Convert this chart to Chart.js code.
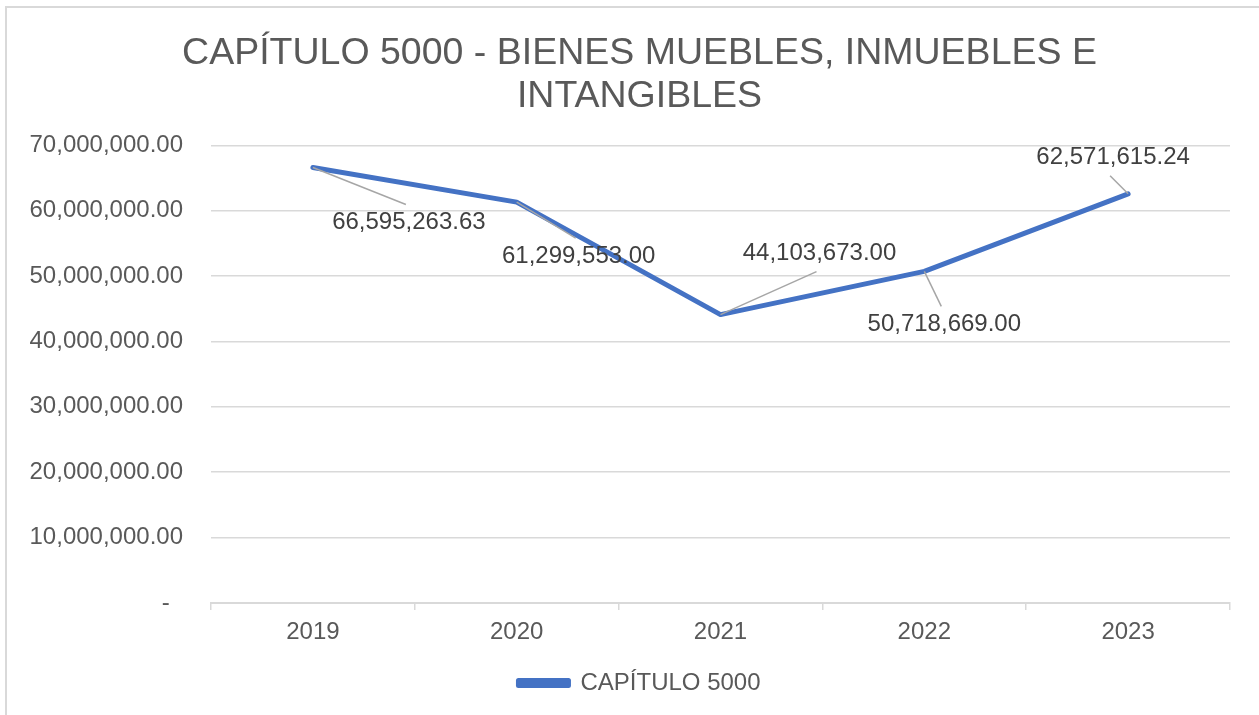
<!DOCTYPE html>
<html>
<head>
<meta charset="utf-8">
<script src="https://cdn.jsdelivr.net/npm/chart.js@4.4.1/dist/chart.umd.min.js"></script>
<style>
  html, body { margin: 0; padding: 0; background: #ffffff; }
  #wrap { position: relative; width: 1259px; height: 715px; }
  #marco { position: absolute; left: 5px; top: 6px; width: 1300px; height: 760px;
           border: 2px solid #d9d9d9; pointer-events: none; }
</style>
</head>
<body>
<div id="wrap">
  <canvas id="grafica" width="1259" height="715"></canvas>
  <div id="marco"></div>
</div>
<script>
// Datos de la gráfica
const anios = ["2019", "2020", "2021", "2022", "2023"];
const montos = [66595263.63, 61299553.00, 44103673.00, 50718669.00, 62571615.24];
const etiquetasMontos = ["66,595,263.63", "61,299,553.00", "44,103,673.00", "50,718,669.00", "62,571,615.24"];
const nombreSerie = "CAPÍTULO 5000";
const tituloGrafica = ["CAPÍTULO 5000 - BIENES MUEBLES, INMUEBLES E", "INTANGIBLES"];

// Desplazamiento de cada etiqueta respecto a su punto (px)
const desplazamientos = [[96, 55], [62, 54], [99, -61], [20, 53], [-15, -36]];

const fuente = '"Liberation Sans", Arial, sans-serif';
const gris = "#595959";

// Plugin para las etiquetas de datos con líneas guía
const etiquetasPlugin = {
    id: "etiquetasDatos",
    afterDatasetsDraw(chart) {
        const ctx = chart.ctx;
        const meta = chart.getDatasetMeta(0);
        ctx.save();
        ctx.font = "24px " + fuente;
        ctx.textAlign = "center";
        ctx.textBaseline = "middle";
        meta.data.forEach((pt, i) => {
            const [dx, dy] = desplazamientos[i];
            const lx = pt.x + dx;
            const ly = pt.y + dy;
            const finY = dy > 0 ? ly - 18 : ly + 18;
            ctx.strokeStyle = "#a6a6a6";
            ctx.lineWidth = 1.5;
            ctx.beginPath();
            ctx.moveTo(pt.x, pt.y);
            ctx.lineTo(lx - 3, finY);
            ctx.stroke();
            ctx.fillStyle = "#404040";
            ctx.fillText(etiquetasMontos[i], lx, ly);
        });
        ctx.restore();
    }
};

const ctx = document.getElementById("grafica").getContext("2d");
new Chart(ctx, {
    type: "line",
    data: {
        labels: anios,
        datasets: [{
            label: nombreSerie,
            data: montos,
            borderColor: "#4472C4",
            backgroundColor: "#4472C4",
            borderWidth: 5,
            borderCapStyle: "round",
            borderJoinStyle: "round",
            pointRadius: 0,
            tension: 0
        }]
    },
    options: {
        responsive: false,
        animation: false,
        layout: { padding: { left: 20, right: 0, top: 8, bottom: 10 } },
        plugins: {
            title: {
                display: true,
                text: tituloGrafica,
                color: gris,
                font: { family: fuente, size: 37.5, weight: "normal", lineHeight: 1.15 },
                padding: { top: 24, bottom: 27 }
            },
            legend: {
                position: "bottom",
                labels: {
                    color: gris,
                    font: { family: fuente, size: 24 },
                    boxWidth: 50,
                    boxHeight: 5,
                    padding: 10
                }
            },
            tooltip: { enabled: false }
        },
        scales: {
            x: {
                offset: true,
                grid: { offset: true, drawOnChartArea: false, drawTicks: true, tickLength: 7, color: "#d9d9d9", lineWidth: 1.5 },
                border: { color: "#d9d9d9", width: 2 },
                ticks: { color: gris, font: { family: fuente, size: 24 }, padding: 8 },
                afterFit(scale) { scale.height = 58; }
            },
            y: {
                min: 0,
                max: 70000000,
                grid: { color: "#d9d9d9", lineWidth: 1.5, drawTicks: false },
                border: { display: false },
                ticks: {
                    stepSize: 10000000,
                    color: gris,
                    font: { family: fuente, size: 24 },
                    padding: 28,
                    callback: v => v === 0 ? "-  " : v.toLocaleString("en-US", { minimumFractionDigits: 2, maximumFractionDigits: 2 })
                },
                afterFit(scale) { scale.width = 191; }
            },
            // eje vacío a la derecha, solo para dejar el margen
            margen: {
                type: "linear",
                position: "right",
                display: true,
                grid: { display: false },
                border: { display: false },
                ticks: { display: false },
                afterFit(scale) { scale.width = 29; }
            }
        }
    },
    plugins: [etiquetasPlugin]
});
</script>
</body>
</html>
